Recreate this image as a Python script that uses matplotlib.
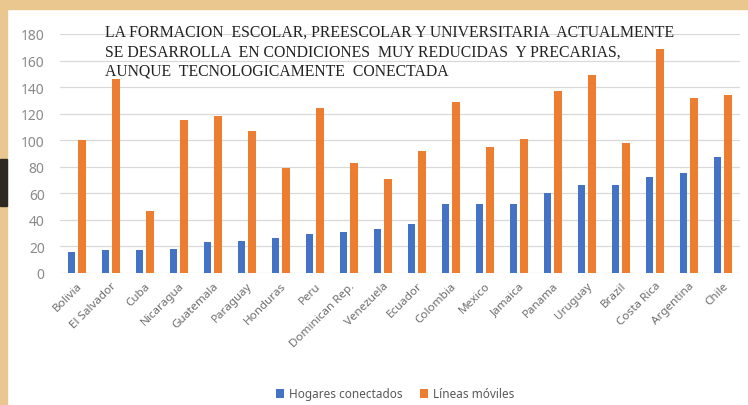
import numpy as np
import matplotlib
matplotlib.use("Agg")
import matplotlib.pyplot as plt
from matplotlib.patches import Rectangle

paises = ["Bolivia", "El Salvador", "Cuba", "Nicaragua", "Guatemala", "Paraguay",
          "Honduras", "Peru", "Dominican Rep.", "Venezuela", "Ecuador", "Colombia",
          "Mexico", "Jamaica", "Panama", "Uruguay", "Brazil", "Costa Rica",
          "Argentina", "Chile"]
hogares = [16, 17, 17.5, 18, 23, 24, 26, 29, 31, 33, 37, 52, 52, 52, 60, 66, 66, 72, 75, 87]
moviles = [100, 146, 47, 115, 118, 107, 79, 124, 83, 71, 92, 129, 95, 101, 137, 149, 98, 169, 132, 134]
yticks = [0, 20, 40, 60, 80, 100, 120, 140, 160, 180]

titulo = ("LA FORMACION  ESCOLAR, PREESCOLAR Y UNIVERSITARIA  ACTUALMENTE\n"
          "SE DESARROLLA  EN CONDICIONES  MUY REDUCIDAS  Y PRECARIAS,\n"
          "AUNQUE  TECNOLOGICAMENTE  CONECTADA")

W, H = 748, 406
fig = plt.figure(figsize=(W / 100, H / 100), dpi=100, facecolor="white")

# marco de fondo (borde beige y mancha oscura a la izquierda)
tan = "#e9c78f"
fig.patches.append(Rectangle((0, 1 - 10 / H), 1, 10 / H, transform=fig.transFigure, color=tan, zorder=0))
fig.patches.append(Rectangle((0, 0), 7 / W, 1, transform=fig.transFigure, color=tan, zorder=0))
fig.patches.append(Rectangle((0, 1 - 207 / H), 7 / W, 47 / H, transform=fig.transFigure, color="#2e2822", zorder=1))

ax = fig.add_axes([60 / W, 1 - 274 / H, 680 / W, 239 / H])
ax.set_facecolor("white")

x = np.arange(len(paises))
ax.bar(x - 0.16, hogares, width=0.22, color="#4472C4", label="Hogares conectados", zorder=3)
ax.bar(x + 0.15, moviles, width=0.22, color="#ED7D31", label="Líneas móviles", zorder=3)

ax.set_xlim(-0.5, len(paises) - 0.5)
ax.set_ylim(0, 180)
ax.set_yticks(yticks)
ax.yaxis.grid(True, color="#d9d9d9", lw=0.9, zorder=0)
ax.set_axisbelow(True)
for s in ax.spines.values():
    s.set_visible(False)
ax.tick_params(length=0, colors="#8a8a8a", labelsize=10)
ax.tick_params(axis="y", pad=11)
ax.tick_params(axis="x", pad=5)
ax.set_xticks(x)
ax.set_xticklabels(paises, rotation=45, ha="right", rotation_mode="anchor",
                   fontsize=8.4, color="#6d6d6d", family="Noto Sans")
for lab in ax.get_yticklabels():
    lab.set_family("Noto Sans")

fig.text(105 / W, 1 - 25 / H, titulo, ha="left", va="top", family="Liberation Serif",
         fontsize=11.3, color="#222222", linespacing=1.27)

leg = fig.legend(loc="center", bbox_to_anchor=(395 / W, 1 - 395 / H), ncol=2, frameon=False,
                 handlelength=0.7, handleheight=0.7, columnspacing=1.5,
                 handletextpad=0.4, prop={"family": "Noto Sans", "size": 8.5})
for t in leg.get_texts():
    t.set_color("#595959")

fig.savefig("out.png", dpi=100, facecolor=fig.get_facecolor())
